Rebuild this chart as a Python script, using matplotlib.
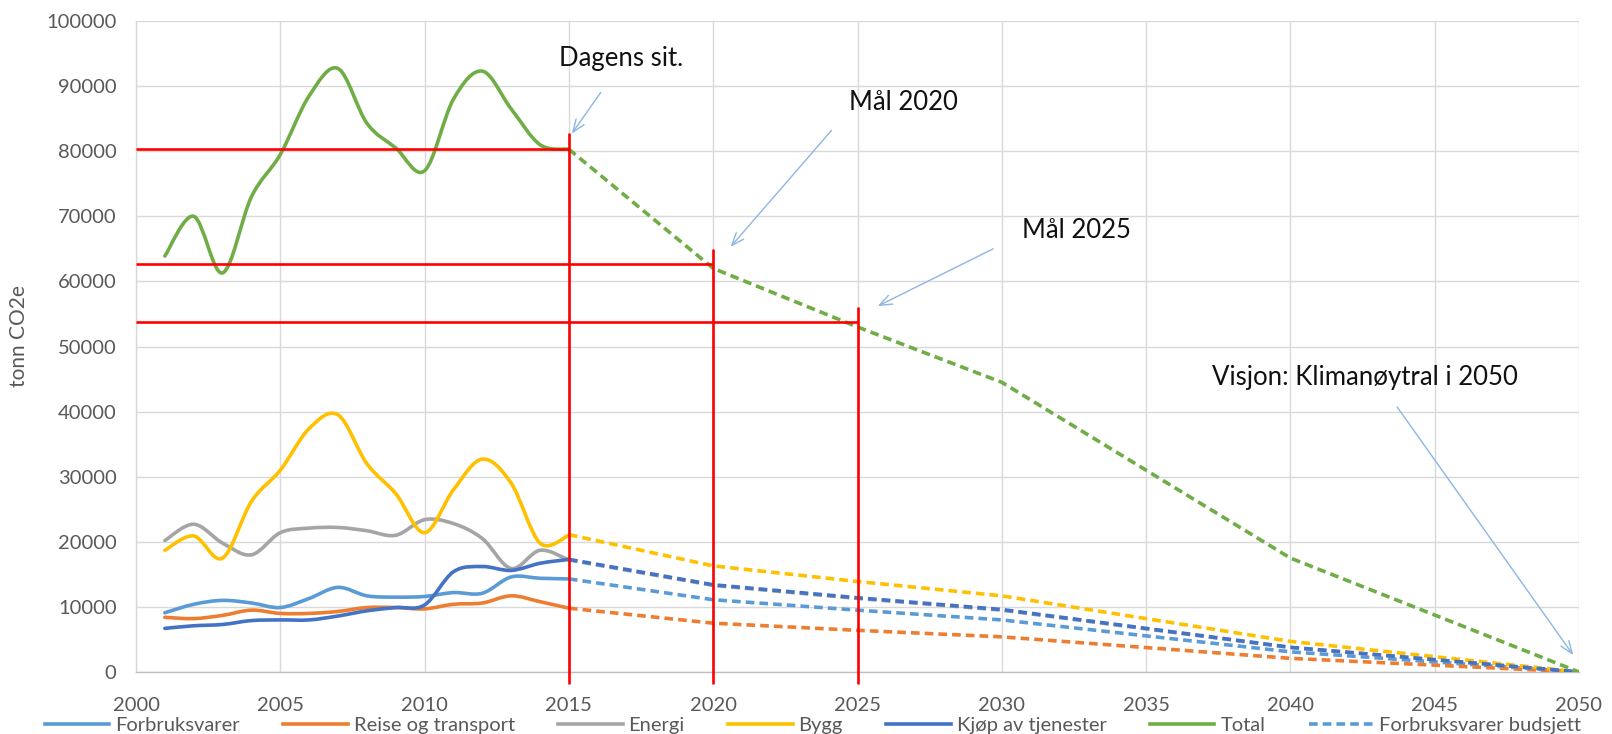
import numpy as np
import matplotlib
matplotlib.use("Agg")
import matplotlib.pyplot as plt
from matplotlib.path import Path
from matplotlib.patches import PathPatch
from matplotlib.lines import Line2D

# ---------------- data ----------------
years_hist = [2001, 2002, 2003, 2004, 2005, 2006, 2007, 2008, 2009, 2010, 2011, 2012, 2013, 2014, 2015]
forbruksvarer = [9100, 10400, 11000, 10600, 9900, 11300, 13000, 11700, 11500, 11600, 12200, 12100, 14600, 14400, 14300]
reise = [8400, 8200, 8700, 9500, 9000, 9000, 9300, 9900, 9900, 9700, 10400, 10600, 11700, 10800, 9800]
energi = [20200, 22700, 19800, 18000, 21400, 22100, 22200, 21700, 21000, 23400, 22800, 20500, 15900, 18700, 17200]
bygg = [18700, 20900, 17500, 26200, 31000, 37400, 39500, 32000, 27400, 21400, 28000, 32700, 29000, 19800, 21000]
kjop = [6700, 7100, 7300, 7900, 8000, 8000, 8600, 9400, 9900, 10300, 15400, 16200, 15600, 16700, 17300]
total = [63900, 70000, 61300, 73000, 79500, 88500, 92700, 84300, 80500, 77000, 88000, 92300, 86500, 81000, 80300]

years_proj = [2015, 2020, 2025, 2030, 2040, 2050]
forbruksvarer_budsjett = [14300, 11100, 9500, 8000, 3100, 0]
reise_budsjett = [9800, 7500, 6400, 5400, 2100, 0]
energi_budsjett = [17200, 13300, 11300, 9500, 3750, 0]
bygg_budsjett = [21100, 16300, 13900, 11700, 4700, 0]
kjop_budsjett = [17300, 13400, 11400, 9600, 3800, 0]
total_budsjett = [80300, 62000, 53000, 44500, 17500, 0]

legend_labels = ["Forbruksvarer", "Reise og transport", "Energi", "Bygg",
                 "Kjøp av tjenester", "Total", "Forbruksvarer budsjett"]
x_ticks = [2000, 2005, 2010, 2015, 2020, 2025, 2030, 2035, 2040, 2045, 2050]
y_ticks = [0, 10000, 20000, 30000, 40000, 50000, 60000, 70000, 80000, 90000, 100000]

# ---------------- style ----------------
C_FORB = "#5B9BD5"
C_REISE = "#ED7D31"
C_ENERGI = "#A5A5A5"
C_BYGG = "#FFC000"
C_KJOP = "#4472C4"
C_TOTAL = "#70AD47"
C_RED = "#FF0000"
C_ARROW = "#8DB6E2"
FONT = ["Lato", "DejaVu Sans"]

plt.rcParams["font.family"] = FONT

fig = plt.figure(figsize=(16.12, 7.34), dpi=100)
ax = fig.add_axes([136 / 1612, 1 - 672 / 734, (1579 - 136) / 1612, (672 - 21) / 734])

LW = 2.6


def smooth_patch(xs, ys, color, z):
    pts = np.column_stack([xs, ys]).astype(float)
    n = len(pts)
    verts = [pts[0]]
    codes = [Path.MOVETO]
    for i in range(n - 1):
        p0 = pts[i - 1] if i > 0 else pts[i]
        p1 = pts[i]
        p2 = pts[i + 1]
        p3 = pts[i + 2] if i + 2 < n else pts[i + 1]
        c1 = p1 + (p2 - p0) / 6.0
        c2 = p2 - (p3 - p1) / 6.0
        verts += [c1, c2, p2]
        codes += [Path.CURVE4] * 3
    patch = PathPatch(Path(verts, codes), facecolor="none", edgecolor=color,
                      lw=LW, zorder=z, capstyle="round", joinstyle="round")
    ax.add_patch(patch)


hist = [(forbruksvarer, C_FORB), (reise, C_REISE), (energi, C_ENERGI),
        (bygg, C_BYGG), (kjop, C_KJOP), (total, C_TOTAL)]
for i, (vals, col) in enumerate(hist):
    smooth_patch(years_hist, vals, col, 3 + i * 0.1)

proj = [(forbruksvarer_budsjett, C_FORB), (reise_budsjett, C_REISE), (energi_budsjett, C_ENERGI),
        (bygg_budsjett, C_BYGG), (kjop_budsjett, C_KJOP), (total_budsjett, C_TOTAL)]
for i, (vals, col) in enumerate(proj):
    ax.plot(years_proj, vals, color=col, lw=LW, dashes=(2.4, 1.4), zorder=4 + i * 0.1)

# red marker lines
red_levels = [(2015, total_budsjett[0], 82800), (2020, 62700, 65000), (2025, 53700, 56100)]
for xr, yh, ytop in red_levels:
    ax.plot([2000, xr], [yh, yh], color=C_RED, lw=1.9, zorder=6, solid_capstyle="butt")
    ax.plot([xr, xr], [-1800, ytop], color=C_RED, lw=1.9, zorder=6, clip_on=False,
            solid_capstyle="butt")

# annotations
notes = [
    ("Dagens sit.", (2016.8, 94300), (2016.1, 89000), (2015.1, 82700)),
    ("Mål 2020", (2026.6, 87500), (2024.1, 83200), (2020.6, 65300)),
    ("Mål 2025", (2032.6, 67800), (2029.7, 65000), (2025.7, 56200)),
    ("Visjon: Klimanøytral i 2050", (2042.6, 45300), (2043.7, 40700), (2049.8, 2600)),
]
for txt, tpos, a0, a1 in notes:
    ax.text(tpos[0], tpos[1], txt, ha="center", va="center", fontsize=18.5,
            color="#111111", zorder=8)
    ax.annotate("", xy=a1, xytext=a0,
                arrowprops=dict(arrowstyle="->,head_length=0.9,head_width=0.35",
                                color=C_ARROW, lw=1.0, shrinkA=0, shrinkB=0), zorder=8)

# axes
ax.set_xlim(2000, 2050)
ax.set_ylim(0, 100000)
ax.set_xticks(x_ticks)
ax.set_yticks(y_ticks)
ax.set_xticklabels([str(v) for v in x_ticks])
ax.set_yticklabels([str(v) for v in y_ticks])
ax.grid(True, color="#D9D9D9", lw=1.0, zorder=0)
ax.set_axisbelow(True)
for s in ["top", "right"]:
    ax.spines[s].set_visible(False)
ax.spines["left"].set_color("#D9D9D9")
ax.spines["bottom"].set_color("#BFBFBF")
ax.spines["left"].set_linewidth(1.0)
ax.spines["bottom"].set_linewidth(1.0)
ax.tick_params(length=0, labelsize=14.5, colors="#595959")
ax.tick_params(axis="y", pad=14)
ax.tick_params(axis="x", pad=18)

fig.text(19 / 1612, 1 - 336 / 734, "tonn CO2e", rotation=90, ha="center", va="center",
         fontsize=15, color="#595959")

# legend
handles = [Line2D([], [], color=C_FORB, lw=LW),
           Line2D([], [], color=C_REISE, lw=LW),
           Line2D([], [], color=C_ENERGI, lw=LW),
           Line2D([], [], color=C_BYGG, lw=LW),
           Line2D([], [], color=C_KJOP, lw=LW),
           Line2D([], [], color=C_TOTAL, lw=LW),
           Line2D([], [], color=C_FORB, lw=LW, dashes=(2.4, 1.4))]
leg = fig.legend(handles, legend_labels, loc="center", bbox_to_anchor=(813 / 1612, 1 - 725 / 734),
                 ncol=7, frameon=False, fontsize=14.5, handlelength=3.2, handletextpad=0.3,
                 columnspacing=2.15, borderpad=0, borderaxespad=0)
for t in leg.get_texts():
    t.set_color("#595959")

fig.savefig("out.png", dpi=100)
